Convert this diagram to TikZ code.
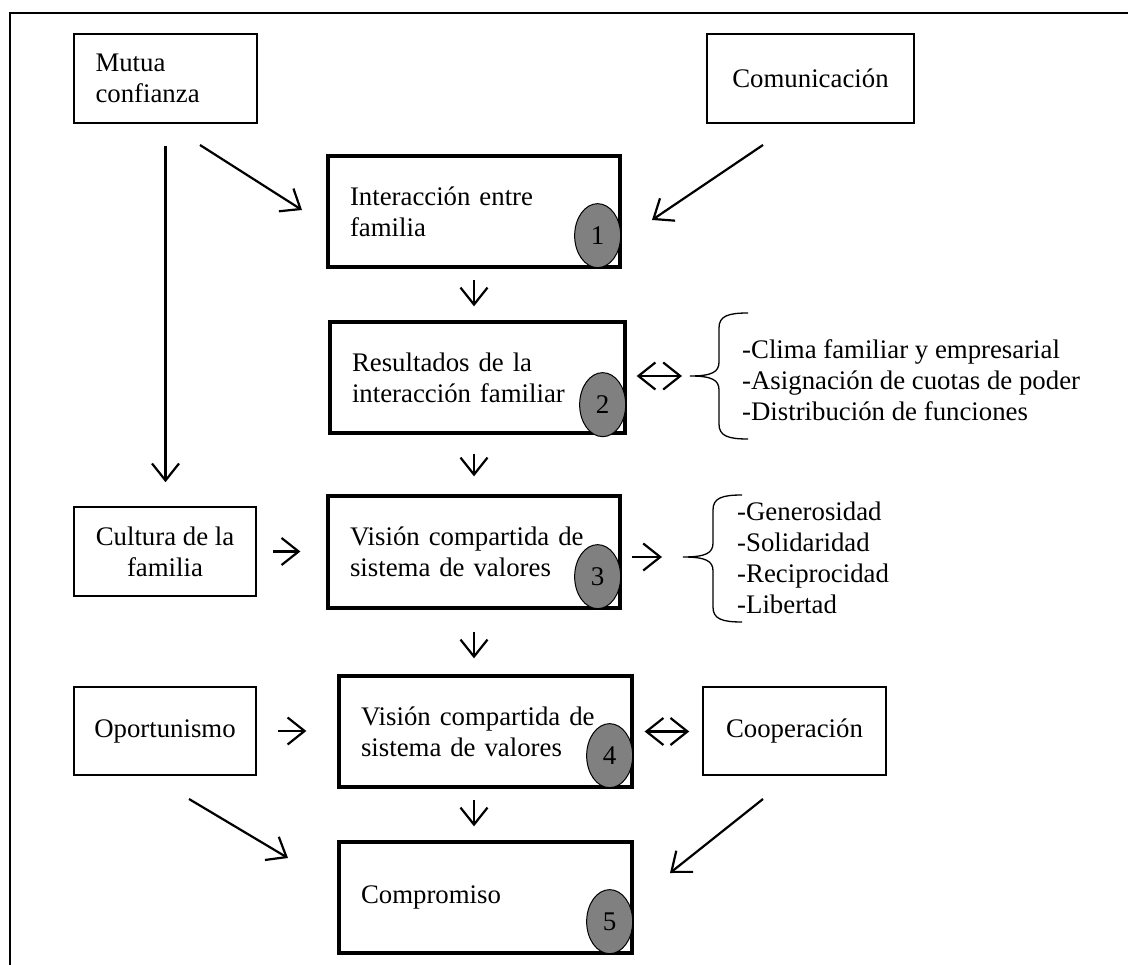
\documentclass[tikz,border=0pt]{standalone}
\usepackage{fontspec}
\setmainfont{Liberation Serif}
\usetikzlibrary{arrows.meta,shapes.geometric,calc}
\definecolor{badgegray}{RGB}{128,128,128}

\begin{document}
\begin{tikzpicture}[x=1pt,y=-1pt,
  font=\fontsize{26.8}{30.8}\selectfont,
  keybox/.style={draw, line width=3.3pt, minimum height=111pt, inner xsep=22pt, inner ysep=0pt, align=left},
  sidebox/.style={draw, line width=1.5pt, minimum height=89pt, inner sep=0pt, align=center},
  badge/.style={ellipse, draw, line width=1pt, fill=badgegray, minimum width=46pt, minimum height=64pt, inner sep=0pt, font=\fontsize{27}{27}\selectfont},
  barb/.tip={Straight Barb[length=17pt,width=27pt]},
  arr/.style={line width=2.2pt, -barb},
  dbl/.style={line width=2.2pt, barb-barb},
  bracestroke/.style={line width=1.3pt},
  listtext/.style={anchor=west, align=left, inner sep=0pt}
]
\useasboundingbox (0,0) rectangle (1128,965);

% outer frame (top and left edges)
\draw[line width=2pt] (9.5,965) -- (9.5,13) -- (1128,13);

% side factors
\node[sidebox, minimum width=183pt, text width=140pt, inner xsep=21.5pt, align=left] (mutua) at (165.5,78.5) {Mutua\\confianza};
\node[sidebox, minimum width=207pt] (comun) at (810.5,78.5) {Comunicación};
\node[sidebox, minimum width=182pt] (cult) at (165,551.5) {Cultura de la\\familia};
\node[sidebox, minimum width=182pt, minimum height=88pt] (oport) at (165,731) {Oportunismo};
\node[sidebox, minimum width=183pt, minimum height=88pt] (coop) at (794.5,731) {Cooperación};

% main sequence
\node[keybox, text width=248pt] (box1) at (474,211.5) {Interacción entre\\familia};
\node[keybox, text width=251pt] (box2) at (477.5,377.5) {Resultados de la\\interacción familiar};
\node[keybox, text width=248pt, minimum height=112pt] (box3) at (474,552) {Visión compartida de\\sistema de valores};
\node[keybox, text width=249pt] (box4) at (485.5,731.5) {Visión compartida de\\sistema de valores};
\node[keybox, text width=249pt] (box5) at (485.5,897.5) {Compromiso};

% numbered badges
\node[badge] (n1) at ($(box1.south east)+(-24,-33)$) {1};
\node[badge] (n2) at ($(box2.south east)+(-24,-30)$) {2};
\node[badge] (n3) at ($(box3.south east)+(-24,-33)$) {3};
\node[badge] (n4) at ($(box4.south east)+(-24,-33)$) {4};
\node[badge] (n5) at ($(box5.south east)+(-24,-33)$) {5};

% lists with braces
\node[listtext] (list1) at (742,380) {-Clima familiar y empresarial\\-Asignación de cuotas de poder\\-Distribución de funciones};
\node[listtext] (list2) at (737,558) {-Generosidad\\-Solidaridad\\-Reciprocidad\\-Libertad};
\coordinate (b1tip) at (690,376);
\coordinate (b2tip) at (683,557);
\draw[bracestroke] (748,313) .. controls (728,313) and (719,316) .. (719,328) -- (719,362)
  .. controls (719,372) and (712,376) .. (b1tip)
  .. controls (712,376) and (719,380) .. (719,390) -- (719,424)
  .. controls (719,436) and (728,439) .. (748,439);
\draw[bracestroke] (742,495) .. controls (722,495) and (713,498) .. (713,510) -- (713,543)
  .. controls (713,553) and (706,557) .. (b2tip)
  .. controls (706,557) and (713,561) .. (713,571) -- (713,607)
  .. controls (713,619) and (722,622) .. (742,622);

% free ends of the slanted connectors
\coordinate (ma) at (200,145);  \coordinate (mb) at (302,210);
\coordinate (ca) at (763,145);  \coordinate (cb) at (652,220);
\coordinate (oa) at (189,799);  \coordinate (ob) at (288,858);
\coordinate (pa) at (763,799);  \coordinate (pb) at (670,873);

% connectors
\draw[arr] (ma) -- (mb);
\draw[arr] (ca) -- (cb);
\draw[arr] (oa) -- (ob);
\draw[arr] (pa) -- (pb);
\draw[arr, shorten <=22pt, shorten >=24pt] (mutua.south) -- (mutua.south |- cult.north);
\draw[arr, shorten <=11pt, shorten >=14pt] (box1.south) -- (box1.south |- box2.north);
\draw[arr, shorten <=19pt, shorten >=18pt] (box1.south |- box2.south) -- (box3.north);
\draw[arr, shorten <=22pt, shorten >=16pt] (box3.south) -- (box3.south |- box4.north);
\draw[arr, shorten <=11pt, shorten >=14pt] (box3.south |- box4.south) -- (box3.south |- box5.north);
\draw[arr, shorten <=16pt, shorten >=26pt] (cult.east) -- (cult.east -| box3.west);
\draw[arr, shorten <=21pt, shorten >=31pt] (oport.east) -- (oport.east -| box4.west);
\draw[arr, shorten <=10pt, shorten >=21pt] (box3.east |- b2tip) -- (b2tip);
\draw[dbl, shorten <=10pt, shorten >=8pt] (box2.east |- b1tip) -- (b1tip);
\draw[dbl, shorten <=11pt, shorten >=13pt] (box4.east) -- (box4.east -| coop.west);
\end{tikzpicture}
\end{document}
